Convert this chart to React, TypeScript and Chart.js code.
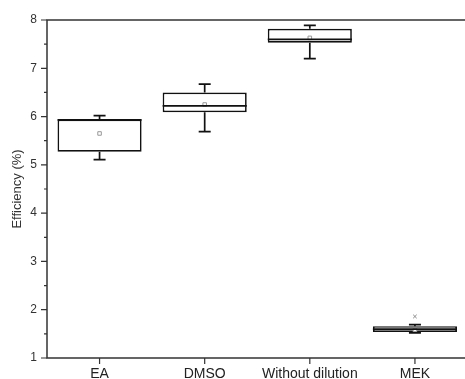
import React, { useEffect, useRef } from "react";
import { Chart, registerables } from "chart.js";

Chart.register(...registerables);

const categories = ["EA", "DMSO", "Without dilution", "MEK"];
const whiskerLow = [5.11, 5.69, 7.2, 1.52];
const q1 = [5.27, 6.09, 7.53, 1.54];
const median = [5.93, 6.22, 7.6, 1.6];
const q3 = [5.94, 6.5, 7.82, 1.66];
const whiskerHigh = [6.02, 6.67, 7.89, 1.69];
const means = [5.65, 6.25, 7.63, 1.58];
const outliers = [null, null, null, 1.86];
const yTicks = [1, 2, 3, 4, 5, 6, 7, 8];

const AXIS = "#333";
const FONT = "'Liberation Sans', Arial, sans-serif";

const boxPlugin = {
  id: "boxExtras",
  afterDatasetsDraw(chart: any) {
    const ctx = chart.ctx;
    const y = chart.scales.y;
    const meta = chart.getDatasetMeta(0);
    ctx.save();
    ctx.strokeStyle = "#111";
    ctx.lineWidth = 1.7;
    meta.data.forEach((bar: any, i: number) => {
      const x = bar.x;
      const half = bar.width / 2;
      const cap = 6;
      const yq1 = y.getPixelForValue(q1[i]);
      const yq3 = y.getPixelForValue(q3[i]);
      const ylo = y.getPixelForValue(whiskerLow[i]);
      const yhi = y.getPixelForValue(whiskerHigh[i]);
      const ymed = y.getPixelForValue(median[i]);
      ctx.beginPath();
      ctx.moveTo(x, yq3);
      ctx.lineTo(x, yhi);
      ctx.moveTo(x - cap, yhi);
      ctx.lineTo(x + cap, yhi);
      ctx.moveTo(x, yq1);
      ctx.lineTo(x, ylo);
      ctx.moveTo(x - cap, ylo);
      ctx.lineTo(x + cap, ylo);
      ctx.moveTo(x - half, ymed);
      ctx.lineTo(x + half, ymed);
      ctx.stroke();
    });
    ctx.restore();
  },
  afterDraw(chart: any) {
    const ctx = chart.ctx;
    const { left, right, top, bottom } = chart.chartArea;
    const y = chart.scales.y;
    const x = chart.scales.x;
    ctx.save();
    ctx.strokeStyle = AXIS;
    ctx.lineWidth = 1.5;
    ctx.beginPath();
    ctx.moveTo(right, top);
    ctx.lineTo(left, top);
    ctx.lineTo(left, bottom);
    ctx.lineTo(right, bottom);
    ctx.lineTo(right, top);
    ctx.stroke();
    ctx.lineWidth = 1.2;
    ctx.beginPath();
    for (let v = y.min; v <= y.max + 1e-6; v += 0.5) {
      const py = y.getPixelForValue(v);
      const major = Math.abs(v - Math.round(v)) < 1e-6;
      ctx.moveTo(left - (major ? 6 : 3), py);
      ctx.lineTo(left, py);
    }
    categories.forEach((_, i) => {
      const px = x.getPixelForValue(i);
      ctx.moveTo(px, bottom);
      ctx.lineTo(px, bottom + 6);
    });
    ctx.stroke();
    ctx.restore();
  },
};

export default function App() {
  const ref = useRef<HTMLCanvasElement>(null);
  useEffect(() => {
    if (!ref.current) return;
    const chart = new Chart(ref.current, {
      type: "bar",
      data: {
        labels: categories,
        datasets: [
          {
            type: "bar",
            data: q1.map((v, i) => [v, q3[i]]) as any,
            backgroundColor: "#ffffff",
            borderColor: "#111",
            borderWidth: 1.7,
            borderSkipped: false,
            barPercentage: 0.8,
            categoryPercentage: 1.0,
            order: 3,
          } as any,
          {
            type: "line",
            data: means as any,
            showLine: false,
            pointStyle: "rect",
            pointRadius: 2.5,
            borderColor: "#999",
            backgroundColor: "#fff",
            pointBorderWidth: 1,
            order: 1,
          } as any,
          {
            type: "line",
            data: outliers as any,
            showLine: false,
            pointStyle: "crossRot",
            pointRadius: 2.5,
            borderColor: "#888",
            pointBorderWidth: 1,
            order: 0,
          } as any,
        ],
      },
      options: {
        responsive: false,
        animation: false,
        events: [],
        layout: { padding: { left: 0, top: 20, right: 7.5, bottom: 0 } },
        plugins: {
          legend: { display: false },
          tooltip: { enabled: false },
        },
        scales: {
          x: {
            type: "category",
            offset: true,
            grid: { display: false, drawTicks: false },
            border: { display: false },
            ticks: {
              padding: 8,
              color: "#222",
              font: { family: FONT, size: 14 },
              maxRotation: 0,
              autoSkip: false,
            },
            afterFit: (s: any) => {
              s.height = 21;
            },
          },
          y: {
            min: 1,
            max: 8,
            grid: { display: false, drawTicks: false },
            border: { display: false },
            afterBuildTicks: (s: any) => {
              s.ticks = yTicks.map((v) => ({ value: v }));
            },
            ticks: {
              padding: 10,
              color: "#333",
              font: { family: FONT, size: 12 },
            },
            title: {
              display: true,
              text: "Efficiency (%)",
              color: "#333",
              font: { family: FONT, size: 13 },
              padding: { top: 10, bottom: 0 },
            },
            afterFit: (s: any) => {
              s.width = 47;
            },
          },
        },
      },
      plugins: [boxPlugin],
    });
    return () => chart.destroy();
  }, []);
  return (
    <div
      style={{
        position: "fixed",
        left: 0,
        top: 0,
        width: 465,
        height: 379,
        overflow: "hidden",
        background: "#fff",
      }}
    >
      <canvas ref={ref} width={475} height={379} style={{ display: "block" }} />
    </div>
  );
}
